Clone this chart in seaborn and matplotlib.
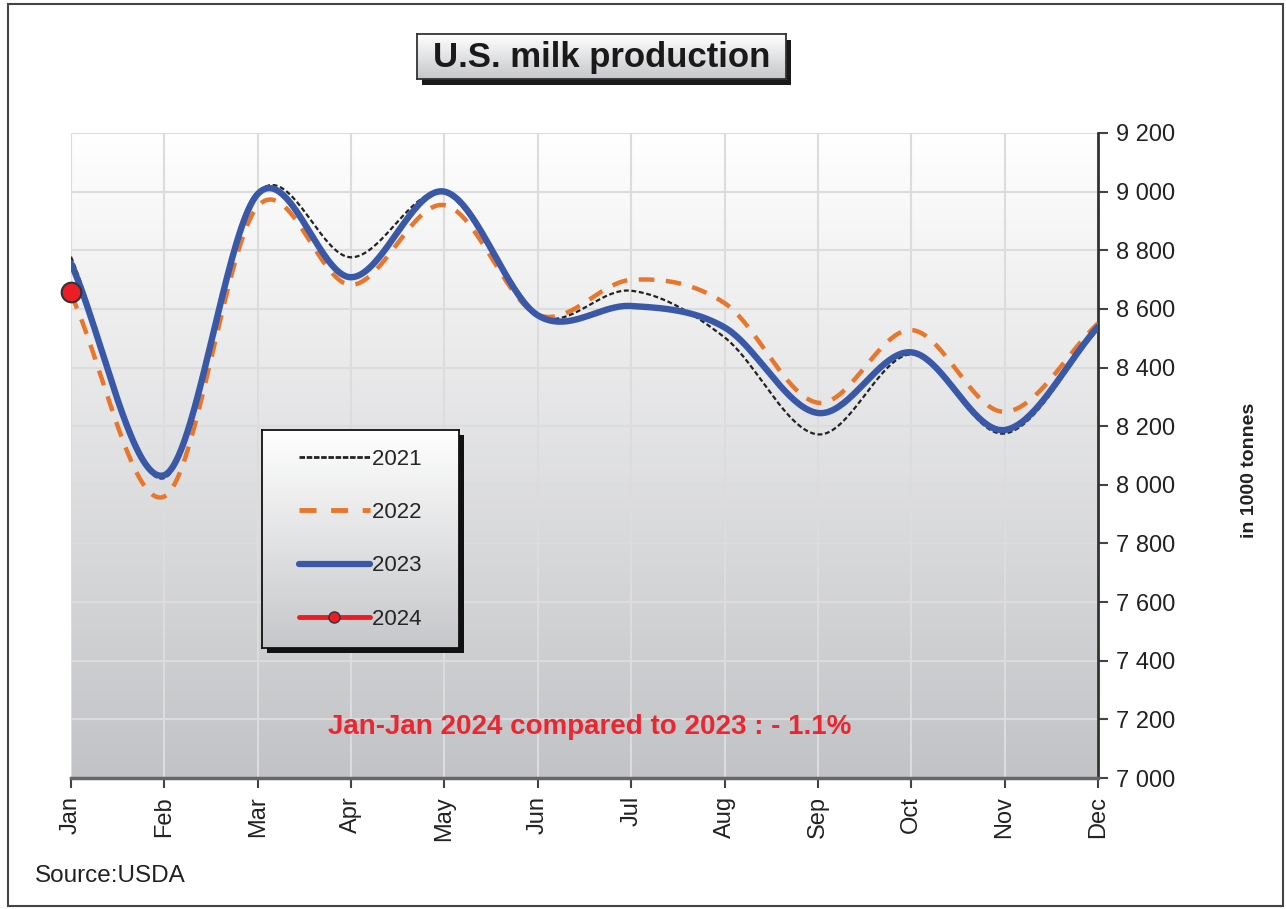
import numpy as np
import pandas as pd
import seaborn as sns
import matplotlib.pyplot as plt
from matplotlib.colors import LinearSegmentedColormap
from matplotlib.patches import Rectangle
from matplotlib.lines import Line2D

# Monthly U.S. milk production, 1000 tonnes
months = ["Jan", "Feb", "Mar", "Apr", "May", "Jun", "Jul", "Aug", "Sep", "Oct", "Nov", "Dec"]
prod_2021 = [8778, 8023, 8995, 8776, 8995, 8578, 8662, 8503, 8172, 8445, 8175, 8530]
prod_2022 = [8650, 7960, 8950, 8682, 8954, 8580, 8699, 8620, 8280, 8528, 8249, 8551]
prod_2023 = [8756, 8033, 8992, 8708, 9000, 8578, 8610, 8537, 8245, 8452, 8187, 8539]
prod_2024 = [8657]

yticks = list(range(7000, 9201, 200))
title = "U.S. milk production"
note = "Jan-Jan 2024 compared to 2023 : - 1.1%"
source = "Source:USDA"

W, H = 1286, 909


def smooth(ys, n=40):
    # Catmull-Rom curve through the monthly points (like Excel's smoothed line)
    xs = np.arange(len(ys), dtype=float)
    ys = np.asarray(ys, dtype=float)
    px = np.concatenate([[2 * xs[0] - xs[1]], xs, [2 * xs[-1] - xs[-2]]])
    py = np.concatenate([[2 * ys[0] - ys[1]], ys, [2 * ys[-1] - ys[-2]]])
    out_x, out_y = [], []
    t = np.linspace(0, 1, n, endpoint=False)
    for i in range(1, len(px) - 2):
        for p, out in ((px, out_x), (py, out_y)):
            p0, p1, p2, p3 = p[i - 1], p[i], p[i + 1], p[i + 2]
            out.extend(0.5 * (2 * p1 + (-p0 + p2) * t + (2 * p0 - 5 * p1 + 4 * p2 - p3) * t ** 2
                              + (-p0 + 3 * p1 - 3 * p2 + p3) * t ** 3))
    out_x.append(xs[-1])
    out_y.append(ys[-1])
    return np.array(out_x), np.array(out_y)


def px_box(x0, y0, x1, y1):
    # pixel box (from top-left) -> figure fraction rect
    return [x0 / W, 1 - y1 / H, (x1 - x0) / W, (y1 - y0) / H]


def gradient_box(rect, zorder, top="#ffffff", bottom="#c6c7ca", edge="#222222"):
    gax = fig.add_axes(rect, zorder=zorder)
    cm = LinearSegmentedColormap.from_list("g", [bottom, top])
    gax.imshow(np.linspace(0, 1, 128).reshape(-1, 1), cmap=cm, origin="lower",
               extent=[0, 1, 0, 1], aspect="auto")
    gax.set_xticks([])
    gax.set_yticks([])
    for s in gax.spines.values():
        s.set_color(edge)
        s.set_linewidth(1.3)
    return gax


sns.set_style("white")
plt.rcParams["font.family"] = ["Liberation Sans", "DejaVu Sans"]

fig = plt.figure(figsize=(W / 100, H / 100), dpi=100)
ax = fig.add_axes([0.0552, 0.1441, 0.7986, 0.7096])

# gradient plot background
cmap = LinearSegmentedColormap.from_list("bg", ["#c2c3c6", "#ffffff"])
ax.imshow(np.linspace(0, 1, 256).reshape(-1, 1), cmap=cmap, origin="lower",
          extent=[0, 1, 0, 1], transform=ax.transAxes, aspect="auto", zorder=0)

styles = {
    "2021": dict(color="#222222", lw=1.6, dashes=(2.2, 1.2)),
    "2022": dict(color="#e8762c", lw=3.2, dashes=(3.5, 2.6)),
    "2023": dict(color="#3a58a8", lw=4.6),
}
for year, vals in [("2021", prod_2021), ("2022", prod_2022), ("2023", prod_2023)]:
    sx, sy = smooth(vals)
    st = styles[year]
    kw = dict(color=st["color"], linewidth=st["lw"], solid_capstyle="round")
    if "dashes" in st:
        kw["dashes"] = st["dashes"]
    sns.lineplot(x=sx, y=sy, ax=ax, estimator=None, sort=False, zorder=3, **kw)

sns.scatterplot(x=np.arange(len(prod_2024)), y=prod_2024, ax=ax, s=200, color="#ee1c25",
                edgecolor="#333333", linewidth=1.5, zorder=5, clip_on=False)

ax.set_xlim(0, 11)
ax.set_ylim(7000, 9200)
ax.set_xticks(range(12))
ax.set_xticklabels(months, rotation=90, fontsize=17, color="#222222")
ax.yaxis.tick_right()
ax.set_yticks(yticks)
ax.set_yticklabels([f"{v:,}".replace(",", " ") for v in yticks], fontsize=17, color="#222222")
ax.tick_params(axis="both", direction="out", length=7, width=1.5, color="#444444", pad=6)
ax.tick_params(axis="y", right=True, left=False)
ax.tick_params(axis="x", bottom=True)
ax.grid(True, color="#dcdcdc", linewidth=1.5)
ax.set_axisbelow(True)
for s in ["left", "top"]:
    ax.spines[s].set_visible(False)
ax.spines["right"].set_color("#333333")
ax.spines["right"].set_linewidth(2)
ax.spines["bottom"].set_color("#666666")
ax.spines["bottom"].set_linewidth(2.5)
ax.set_xlabel("")
ax.set_ylabel("")

ax.text(0.505, 0.079, note, transform=ax.transAxes, ha="center", va="center",
        fontsize=20, fontweight="bold", color="#ec2630")

# legend (figure level so it can sit on a gradient box)
handles = [
    Line2D([], [], color=styles["2021"]["color"], lw=2, dashes=(2, 0.6)),
    Line2D([], [], color=styles["2022"]["color"], lw=3.5, dashes=(3.5, 3)),
    Line2D([], [], color=styles["2023"]["color"], lw=4.5),
    Line2D([], [], color="#ee1c25", lw=3.5, marker="o", markersize=8,
           markerfacecolor="#ee1c25", markeredgecolor="#333333"),
]
leg = fig.legend(handles, ["2021   ", "2022   ", "2023   ", "2024   "], loc="upper left",
                 bbox_to_anchor=(262 / W, 1 - 430 / H), fontsize=16, frameon=True,
                 fancybox=False, framealpha=0, edgecolor="none", handlelength=4.0,
                 handletextpad=0.1, labelspacing=1.45, borderpad=0.85, borderaxespad=0,
                 numpoints=1)
leg.set_zorder(6)
for line in leg.get_lines():
    x = np.asarray(line.get_xdata(), dtype=float)
    line.set_xdata(np.linspace(x[0] + 0.2 * (x[-1] - x[0]), x[-1], len(x)))

fig.canvas.draw()
bb = leg.get_window_extent()
lx0, ly0, lx1, ly1 = bb.x0, H - bb.y1, bb.x1, H - bb.y0
fig.patches.append(Rectangle(((lx0 + 5) / W, 1 - (ly1 + 5) / H), (lx1 - lx0) / W, (ly1 - ly0) / H,
                             transform=fig.transFigure, facecolor="#111111", edgecolor="none",
                             zorder=2))
gradient_box(px_box(lx0, ly0, lx1, ly1), zorder=3, edge="#111111")

# title box with shadow
fig.patches.append(Rectangle(((417 + 5) / W, 1 - (79 + 6) / H), 369 / W, 45 / H,
                             transform=fig.transFigure, facecolor="#1a1a1a", edgecolor="none",
                             zorder=2))
gradient_box(px_box(417, 34, 786, 79), zorder=3, edge="#333333")
fig.text(601.5 / W, 1 - 57 / H, title, ha="center", va="center", fontsize=25,
         fontweight="bold", color="#1a1a1a", zorder=7)

# right axis title
fig.text(0.972, 0.483, "in 1000 tonnes", rotation=90, ha="center", va="center",
         fontsize=14, fontweight="bold", color="#222222")

fig.text(0.0272, 0.0363, source, ha="left", va="center", fontsize=17.5, color="#222222")

# outer frame
fig.patches.append(Rectangle((0.0062, 0.0033), 0.9915, 0.9923, transform=fig.transFigure,
                             fill=False, edgecolor="#444444", linewidth=1.5))

fig.savefig("out.png", dpi=100)
